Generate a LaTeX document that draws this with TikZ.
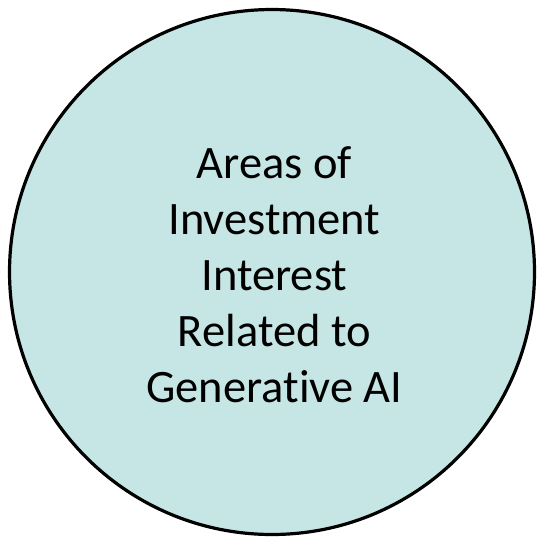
\documentclass[tikz,border=0pt]{standalone}
\usepackage{fontspec}
\setmainfont[RawFeature=-liga]{Carlito}
\definecolor{areafill}{RGB}{197,230,229}

\begin{document}
\begin{tikzpicture}

	\useasboundingbox (0,0) rectangle (18.944,19.015);

	\draw[fill = areafill, line width=3.2bp] (9.596,9.419) circle (9.26);
	\node[] (circ) at (9.596,9.419) {};

	\node[anchor=base, align=center, font=\fontsize{46.5bp}{56bp}\selectfont] (areas) at (9.68, 4.833)
	{Areas of\\Investment\\Interest\\Related to\\Generative AI};

\end{tikzpicture}
\end{document}
